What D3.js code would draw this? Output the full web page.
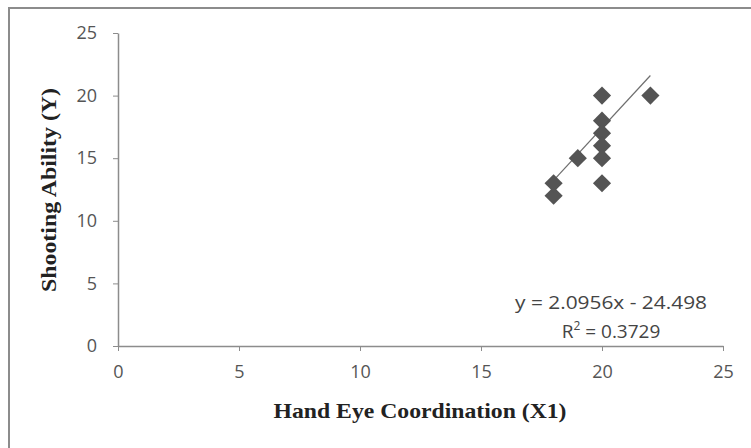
<!DOCTYPE html>
<html>
<head>
    <script src="https://d3js.org/d3.v7.min.js"></script>
    <style>
        body { margin: 0; background: #fff; }
        svg { display: block; }
    </style>
</head>
<body>
    <script>
        // data
        const handEye = [18, 18, 19, 20, 20, 20, 20, 20, 20, 22];
        const shooting = [12, 13, 15, 20, 18, 17, 16, 15, 13, 20];
        const xTicks = [0, 5, 10, 15, 20, 25];
        const yTicks = [0, 5, 10, 15, 20, 25];
        const trendSlope = 2.0956;
        const trendIntercept = -24.498;
        const trendRange = [18, 22];
        const r2 = "0.3729";

        const width = 751, height = 448;

        const svg = d3.select("body").append("svg")
            .attr("width", width)
            .attr("height", height);

        // outer frame (cut off at right and bottom)
        svg.append("path")
            .attr("d", "M9,460 V8 H760")
            .attr("fill", "none")
            .attr("stroke", "#8c8c8c")
            .attr("stroke-width", 2);

        const x = d3.scaleLinear().domain([0, 25]).range([118, 723]);
        const y = d3.scaleLinear().domain([0, 25]).range([346, 33]);

        const tickFont = "'Open Sans', 'Noto Sans', sans-serif";

        // x axis
        const gx = svg.append("g")
            .attr("transform", `translate(0,${y(0)})`)
            .call(d3.axisBottom(x).tickValues(xTicks).tickSize(5).tickPadding(14).tickSizeOuter(0));
        // y axis
        const gy = svg.append("g")
            .attr("transform", `translate(${x(0)},0)`)
            .call(d3.axisLeft(y).tickValues(yTicks).tickSize(5).tickPadding(16).tickSizeOuter(0));

        [gx, gy].forEach(g => {
            g.select(".domain").attr("stroke", "#8c8c8c").attr("stroke-width", 1.5);
            g.selectAll(".tick line").attr("stroke", "#8c8c8c");
            g.selectAll(".tick text")
                .attr("font-family", tickFont)
                .attr("font-size", 18)
                .attr("fill", "#555");
        });

        // axis titles
        svg.append("text")
            .attr("x", 420).attr("y", 418)
            .attr("text-anchor", "middle")
            .attr("font-family", "'Liberation Serif', serif")
            .attr("font-weight", "bold")
            .attr("font-size", 21)
            .attr("textLength", 293)
            .attr("lengthAdjust", "spacingAndGlyphs")
            .attr("fill", "#222")
            .text("Hand Eye Coordination (X1)");

        svg.append("text")
            .attr("transform", "translate(56,190) rotate(-90)")
            .attr("text-anchor", "middle")
            .attr("font-family", "'Liberation Serif', serif")
            .attr("font-weight", "bold")
            .attr("font-size", 21)
            .attr("textLength", 204)
            .attr("lengthAdjust", "spacingAndGlyphs")
            .attr("fill", "#222")
            .text("Shooting Ability (Y)");

        // trend line
        svg.append("line")
            .attr("x1", x(trendRange[0]))
            .attr("y1", y(trendSlope * trendRange[0] + trendIntercept))
            .attr("x2", x(trendRange[1]))
            .attr("y2", y(trendSlope * trendRange[1] + trendIntercept))
            .attr("stroke", "#6e6e6e")
            .attr("stroke-width", 1.2);

        // diamonds
        const diamond = d3.symbol().type(d3.symbolSquare).size(165);
        svg.selectAll("path.pt")
            .data(handEye.map((v, i) => ({ x: v, y: shooting[i] })))
            .join("path")
            .attr("class", "pt")
            .attr("d", diamond)
            .attr("transform", d => `translate(${x(d.x)},${y(d.y)}) rotate(45)`)
            .attr("fill", "#545454");

        // equation
        const eq = svg.append("g")
            .attr("font-family", tickFont)
            .attr("font-size", 19)
            .attr("fill", "#444")
            .attr("text-anchor", "middle");
        eq.append("text")
            .attr("x", 611).attr("y", 309)
            .attr("textLength", 192)
            .attr("lengthAdjust", "spacingAndGlyphs")
            .text(`y = ${trendSlope}x - ${Math.abs(trendIntercept)}`);
        const r = eq.append("text").attr("x", 611).attr("y", 338);
        r.append("tspan").text("R");
        r.append("tspan").attr("dy", -8).attr("font-size", 12).text("2");
        r.append("tspan").attr("dy", 8).text(` = ${r2}`);
    </script>
</body>
</html>
